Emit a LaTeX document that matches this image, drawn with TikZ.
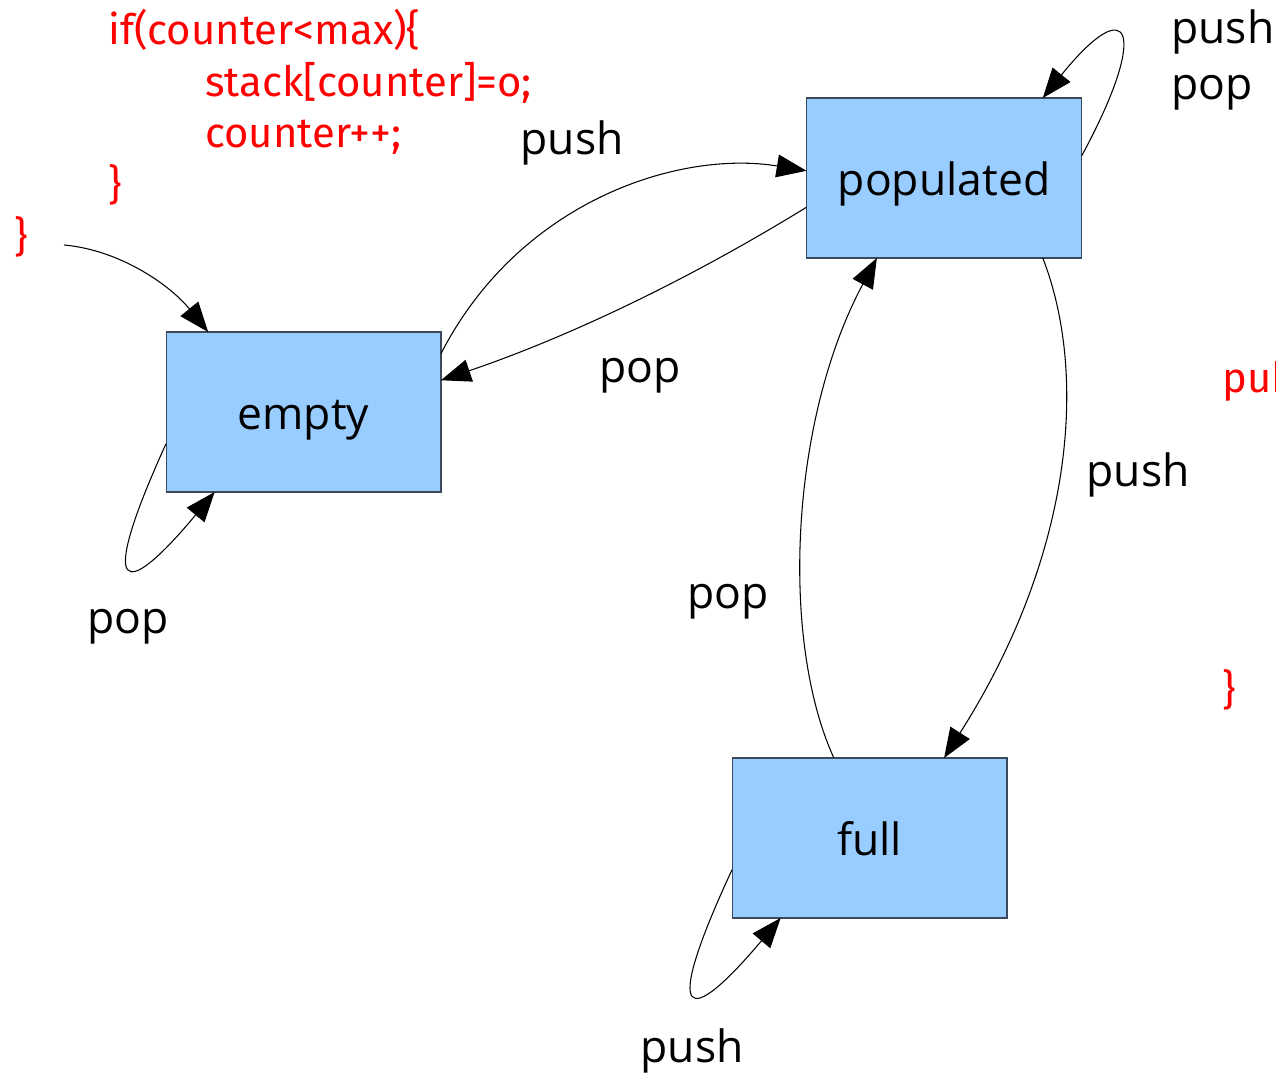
\documentclass[tikz,border=0pt]{standalone}
\usepackage{fontspec}
\setmainfont{Open Sans}
\newfontfamily\codefont{Fira Sans}
\usetikzlibrary{arrows.meta}
\definecolor{SMFill}{HTML}{99CCFF}
\definecolor{SMEdge}{HTML}{3A4A5A}
\definecolor{SMCode}{HTML}{FF0000}

\begin{document}
\begin{tikzpicture}[x=0.02cm,y=-0.02cm,
  state/.style={draw=SMEdge, fill=SMFill, line width=0.6pt, outer sep=0pt,
    minimum width=5.5cm, minimum height=3.2cm, text height=0.72cm, text depth=0cm,
    font=\fontsize{25.3}{30}\selectfont},
  trans/.style={draw, line width=0.6pt, -{Triangle[length=17pt,width=13pt]}},
  lbl/.style={font=\fontsize{25.3}{30}\selectfont, inner sep=0pt, anchor=base},
  code/.style={text=SMCode, font=\codefont\fontsize{23.8}{28}\selectfont,
    anchor=base west, inner sep=0pt}]
  \useasboundingbox (0,0) rectangle (1276,1074);

  % code fragments
  \node[code] (if) at (108,45) {if(counter<max)\{};
  \node[code] (assign) at (205,97) {stack[counter]=o;};
  \node[code] (incr) at (205,148) {counter++;};
  \node[code] (closeif) at (108,200) {\}};
  \node[code] (closefn) at (14,252) {\}};
  \node[code] (pub) at (1222,393) {pub};
  \node[code] (closepub) at (1222,705) {\}};

  % states
  \node[state] (empty) at (303.5,412) {empty};
  \node[state] (populated) at (944,178) {populated};
  \node[state] (full) at (869.5,838) {full};

  % transitions
  \coordinate (init) at (64,245);
  \draw[trans] (init) .. controls (120,250) and (170,285) .. (empty.140);
  \draw[trans] (empty.23.6) .. controls (520,200) and (680,150) .. (populated.177);
  \draw[trans] (populated.192) .. controls (680,285) and (560,340) .. (empty.13);
  \draw[trans] (populated.-39) .. controls (1090,380) and (1070,560) .. (full.47);
  \draw[trans] (full.114) .. controls (780,640) and (790,420) .. (populated.-130);
  \draw[trans] (empty.193.5) .. controls (95,600) and (125,600) .. (empty.222);
  \draw[trans] (populated.9.3) .. controls (1150,30) and (1130,-10) .. (populated.39);
  \draw[trans] (full.193.7) .. controls (659,1027) and (689,1027) .. (full.222);

  % labels
  \node[lbl] (pushA) at (572,155) {push};
  \node[lbl] (popA) at (640,383) {pop};
  \node[lbl] (popB) at (128,634) {pop};
  \node[lbl] (pushB) at (1138,487) {push};
  \node[lbl] (popC) at (728,609) {pop};
  \node[lbl] (pushC) at (692,1062) {push};
  \node[lbl, anchor=base west] (pushD) at (1171,44) {push};
  \node[lbl, anchor=base west] (popD) at (1171,100) {pop};
\end{tikzpicture}
\end{document}
